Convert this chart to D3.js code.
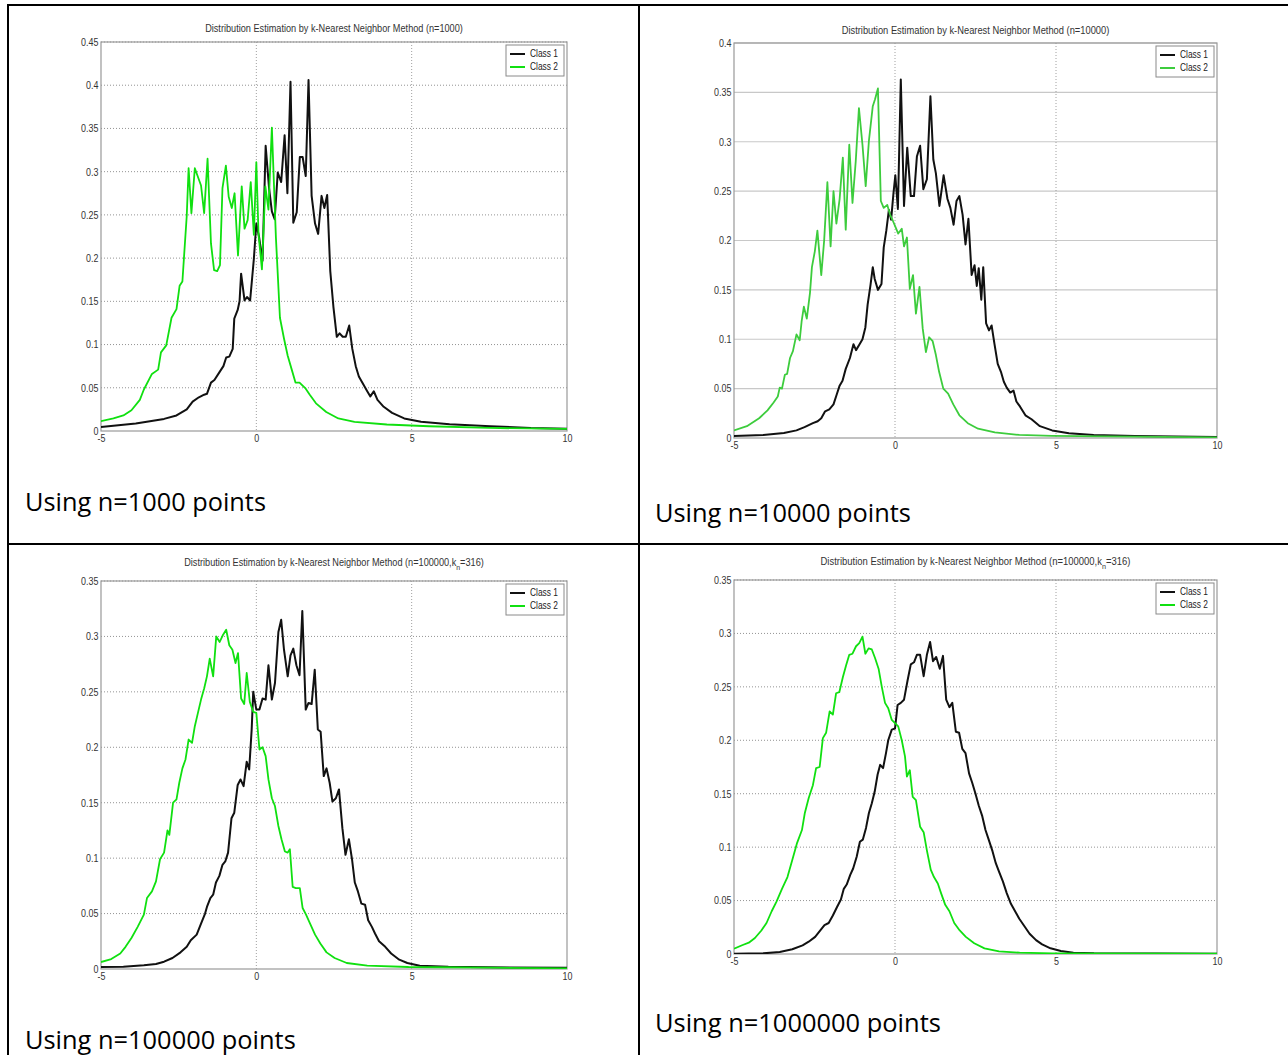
<!DOCTYPE html>
<html><head><meta charset="utf-8">
<script src="https://cdn.jsdelivr.net/npm/d3@7"></script>
<style>
body{margin:0;background:#fff;}
svg{display:block;}
</style></head><body>
<svg id="c" width="1288" height="1055"></svg>
<script>
// ---------------- DATA ----------------
const xTicks = [-5, 0, 5, 10];
const yTicks_n1000 = [0, 0.05, 0.1, 0.15, 0.2, 0.25, 0.3, 0.35, 0.4, 0.45];
const yTicks_n10000 = [0, 0.05, 0.1, 0.15, 0.2, 0.25, 0.3, 0.35, 0.4];
const yTicks_n100000 = [0, 0.05, 0.1, 0.15, 0.2, 0.25, 0.3, 0.35];
const yTicks_n1000000 = [0, 0.05, 0.1, 0.15, 0.2, 0.25, 0.3, 0.35];
const seriesNames = ["Class 1", "Class 2"];
const titles = [
  "Distribution Estimation by k-Nearest Neighbor Method (n=1000)",
  "Distribution Estimation by k-Nearest Neighbor Method (n=10000)",
  "Distribution Estimation by k-Nearest Neighbor Method (n=100000,k_n=316)",
  "Distribution Estimation by k-Nearest Neighbor Method (n=100000,k_n=316)"
];
const captions = ["Using n=1000 points", "Using n=10000 points", "Using n=100000 points", "Using n=1000000 points"];

const n1000_class1 = [[-5,0.0047],[-3.88,0.0086],[-2.97,0.014],[-2.57,0.018],[-2.24,0.025],[-2.05,0.034],[-1.85,0.039],[-1.68,0.042],[-1.59,0.043],[-1.46,0.056],[-1.35,0.059],[-1.17,0.069],[-1.06,0.075],[-0.97,0.085],[-0.87,0.086],[-0.76,0.095],[-0.71,0.130],[-0.60,0.140],[-0.54,0.150],[-0.49,0.182],[-0.38,0.151],[-0.30,0.155],[-0.20,0.151],[-0.08,0.199],[0,0.240],[0.09,0.224],[0.2,0.197],[0.30,0.330],[0.41,0.281],[0.50,0.254],[0.59,0.245],[0.69,0.299],[0.80,0.288],[0.91,0.342],[1.00,0.275],[1.10,0.404],[1.19,0.241],[1.30,0.253],[1.40,0.317],[1.49,0.317],[1.59,0.295],[1.68,0.406],[1.78,0.272],[1.89,0.240],[1.99,0.228],[2.10,0.272],[2.19,0.258],[2.28,0.273],[2.38,0.185],[2.48,0.144],[2.59,0.109],[2.68,0.113],[2.78,0.109],[2.88,0.109],[2.99,0.122],[3.09,0.095],[3.2,0.075],[3.30,0.063],[3.41,0.056],[3.57,0.046],[3.67,0.040],[3.78,0.046],[3.9,0.036],[4.1,0.028],[4.37,0.021],[4.76,0.0145],[5.3,0.0106],[6.22,0.0078],[7.53,0.0055],[8.84,0.0035],[10,0.0027]];
const n1000_class2 = [[-5,0.0114],[-4.6,0.0145],[-4.28,0.018],[-4.02,0.024],[-3.75,0.036],[-3.62,0.048],[-3.36,0.066],[-3.16,0.071],[-3.07,0.091],[-2.9,0.099],[-2.73,0.131],[-2.57,0.141],[-2.47,0.168],[-2.38,0.173],[-2.24,0.249],[-2.18,0.304],[-2.09,0.252],[-1.98,0.304],[-1.78,0.284],[-1.68,0.252],[-1.57,0.315],[-1.46,0.217],[-1.36,0.186],[-1.26,0.185],[-1.17,0.192],[-1.09,0.281],[-0.98,0.307],[-0.89,0.271],[-0.79,0.258],[-0.70,0.275],[-0.59,0.203],[-0.47,0.283],[-0.38,0.234],[-0.28,0.244],[-0.18,0.288],[-0.08,0.227],[0,0.311],[0.07,0.228],[0.18,0.187],[0.29,0.283],[0.39,0.256],[0.50,0.351],[0.63,0.224],[0.76,0.131],[0.89,0.107],[1.01,0.087],[1.14,0.071],[1.26,0.056],[1.39,0.056],[1.59,0.049],[1.72,0.042],[1.92,0.032],[2.25,0.022],[2.64,0.0145],[3.16,0.0106],[4.2,0.0075],[5.56,0.0055],[7.5,0.0035],[10,0.0024]];

const n10000_class1 = [[-5,0.0021],[-4.09,0.003],[-3.45,0.005],[-3.06,0.0077],[-2.81,0.011],[-2.55,0.015],[-2.40,0.017],[-2.29,0.020],[-2.17,0.027],[-2.04,0.029],[-1.91,0.034],[-1.81,0.044],[-1.72,0.053],[-1.63,0.058],[-1.53,0.070],[-1.40,0.081],[-1.29,0.095],[-1.21,0.089],[-1.1,0.095],[-1.01,0.100],[-0.92,0.112],[-0.85,0.135],[-0.76,0.155],[-0.69,0.173],[-0.63,0.161],[-0.53,0.150],[-0.42,0.156],[-0.35,0.193],[-0.27,0.210],[-0.19,0.231],[-0.12,0.221],[-0.05,0.247],[0.01,0.266],[0.09,0.232],[0.18,0.363],[0.28,0.235],[0.38,0.294],[0.49,0.245],[0.59,0.245],[0.68,0.285],[0.78,0.296],[0.88,0.252],[0.99,0.262],[1.1,0.346],[1.19,0.282],[1.27,0.268],[1.38,0.235],[1.51,0.266],[1.63,0.242],[1.72,0.233],[1.82,0.216],[1.91,0.240],[2.0,0.245],[2.10,0.226],[2.19,0.196],[2.28,0.222],[2.38,0.165],[2.47,0.175],[2.54,0.154],[2.60,0.172],[2.68,0.140],[2.74,0.173],[2.83,0.116],[2.92,0.109],[3.0,0.114],[3.09,0.095],[3.19,0.075],[3.29,0.067],[3.38,0.057],[3.47,0.051],[3.58,0.046],[3.68,0.048],[3.77,0.037],[3.88,0.032],[4.05,0.023],[4.24,0.019],[4.5,0.012],[4.88,0.0077],[5.4,0.0049],[6.17,0.0031],[7.45,0.0021],[10,0.001]];
const n10000_class2 = [[-5,0.0077],[-4.6,0.012],[-4.22,0.020],[-3.96,0.028],[-3.77,0.036],[-3.64,0.042],[-3.58,0.051],[-3.51,0.050],[-3.42,0.064],[-3.35,0.065],[-3.26,0.081],[-3.17,0.088],[-3.06,0.105],[-2.96,0.099],[-2.9,0.118],[-2.83,0.133],[-2.74,0.121],[-2.64,0.147],[-2.58,0.173],[-2.49,0.189],[-2.41,0.210],[-2.29,0.165],[-2.2,0.200],[-2.1,0.259],[-2.0,0.194],[-1.91,0.250],[-1.82,0.217],[-1.72,0.242],[-1.62,0.284],[-1.53,0.211],[-1.42,0.297],[-1.32,0.238],[-1.22,0.280],[-1.12,0.334],[-1.01,0.297],[-0.91,0.255],[-0.81,0.301],[-0.69,0.336],[-0.62,0.343],[-0.53,0.354],[-0.44,0.240],[-0.35,0.233],[-0.24,0.236],[-0.15,0.226],[-0.08,0.221],[0.01,0.214],[0.10,0.207],[0.21,0.212],[0.28,0.194],[0.37,0.203],[0.46,0.151],[0.56,0.165],[0.65,0.126],[0.76,0.153],[0.86,0.111],[0.96,0.087],[1.06,0.102],[1.17,0.098],[1.27,0.084],[1.37,0.067],[1.50,0.050],[1.65,0.045],[1.81,0.034],[2.0,0.023],[2.26,0.015],[2.58,0.0094],[3.1,0.0056],[3.86,0.0031],[4.88,0.0021],[7.45,0.0014],[10,0.0007]];

const n100000_class1 = [[-5,0.0018],[-4.28,0.002],[-3.62,0.0033],[-3.23,0.0045],[-2.97,0.0066],[-2.70,0.0099],[-2.44,0.015],[-2.24,0.020],[-2.11,0.026],[-1.92,0.031],[-1.78,0.041],[-1.65,0.050],[-1.59,0.056],[-1.48,0.064],[-1.39,0.067],[-1.30,0.078],[-1.19,0.084],[-1.09,0.094],[-1.0,0.097],[-0.91,0.105],[-0.80,0.136],[-0.71,0.141],[-0.60,0.166],[-0.51,0.171],[-0.41,0.165],[-0.31,0.187],[-0.23,0.180],[-0.15,0.216],[-0.10,0.250],[0,0.234],[0.10,0.234],[0.20,0.244],[0.30,0.243],[0.39,0.274],[0.50,0.243],[0.60,0.258],[0.71,0.304],[0.80,0.315],[0.89,0.288],[1.01,0.264],[1.10,0.283],[1.19,0.289],[1.29,0.274],[1.39,0.265],[1.48,0.323],[1.59,0.234],[1.68,0.240],[1.78,0.239],[1.88,0.270],[1.98,0.216],[2.07,0.214],[2.17,0.174],[2.26,0.181],[2.36,0.168],[2.45,0.151],[2.56,0.154],[2.66,0.162],[2.77,0.127],[2.87,0.103],[2.98,0.117],[3.08,0.099],[3.17,0.078],[3.27,0.070],[3.38,0.059],[3.50,0.058],[3.60,0.044],[3.72,0.038],[3.82,0.032],[3.95,0.025],[4.15,0.020],[4.34,0.014],[4.60,0.0084],[4.86,0.0054],[5.26,0.003],[6.18,0.002],[7.5,0.0015],[10,0.0012]];
const n100000_class2 = [[-5,0.0063],[-4.67,0.009],[-4.38,0.014],[-4.21,0.020],[-4.02,0.028],[-3.82,0.038],[-3.62,0.049],[-3.52,0.064],[-3.36,0.070],[-3.23,0.079],[-3.10,0.099],[-2.97,0.105],[-2.86,0.125],[-2.80,0.121],[-2.68,0.150],[-2.57,0.153],[-2.48,0.168],[-2.38,0.181],[-2.28,0.189],[-2.18,0.207],[-2.07,0.204],[-1.98,0.219],[-1.88,0.231],[-1.78,0.243],[-1.68,0.253],[-1.59,0.264],[-1.50,0.280],[-1.39,0.264],[-1.29,0.300],[-1.18,0.295],[-1.08,0.301],[-0.97,0.306],[-0.87,0.292],[-0.77,0.288],[-0.67,0.276],[-0.59,0.285],[-0.49,0.244],[-0.39,0.239],[-0.31,0.267],[-0.21,0.241],[-0.10,0.232],[0,0.231],[0.10,0.198],[0.20,0.200],[0.30,0.192],[0.39,0.171],[0.50,0.154],[0.60,0.147],[0.71,0.129],[0.81,0.117],[0.92,0.106],[1.01,0.105],[1.08,0.108],[1.17,0.074],[1.27,0.073],[1.40,0.073],[1.49,0.055],[1.60,0.049],[1.73,0.041],[1.89,0.031],[2.06,0.023],[2.26,0.015],[2.52,0.0099],[2.91,0.0054],[3.57,0.003],[4.9,0.0018],[7.53,0.0012],[10,0.0006]];

const n1000000_class1 = [[-5,0.0003],[-4.09,0.0006],[-3.58,0.0019],[-3.19,0.0044],[-2.87,0.0081],[-2.68,0.0115],[-2.48,0.016],[-2.32,0.022],[-2.19,0.027],[-2.06,0.029],[-1.93,0.036],[-1.80,0.044],[-1.68,0.051],[-1.59,0.061],[-1.50,0.065],[-1.39,0.074],[-1.30,0.080],[-1.19,0.091],[-1.09,0.105],[-1.0,0.107],[-0.90,0.118],[-0.81,0.132],[-0.72,0.141],[-0.63,0.152],[-0.54,0.168],[-0.46,0.177],[-0.37,0.174],[-0.28,0.188],[-0.21,0.200],[-0.10,0.210],[0,0.211],[0.08,0.233],[0.18,0.235],[0.28,0.238],[0.39,0.256],[0.49,0.271],[0.59,0.273],[0.68,0.280],[0.78,0.280],[0.89,0.260],[0.99,0.280],[1.09,0.292],[1.18,0.274],[1.28,0.278],[1.39,0.267],[1.49,0.279],[1.59,0.238],[1.69,0.231],[1.78,0.235],[1.89,0.208],[1.99,0.207],[2.09,0.192],[2.19,0.188],[2.30,0.169],[2.40,0.160],[2.50,0.150],[2.60,0.139],[2.71,0.129],[2.81,0.116],[2.91,0.107],[3.03,0.096],[3.13,0.085],[3.23,0.077],[3.35,0.068],[3.47,0.057],[3.60,0.047],[3.73,0.040],[3.86,0.033],[4.02,0.026],[4.18,0.019],[4.38,0.013],[4.57,0.009],[4.83,0.0053],[5.15,0.0028],[5.54,0.0012],[6.18,0.0006],[10,0.0003]];
const n1000000_class2 = [[-5,0.005],[-4.73,0.0084],[-4.54,0.0106],[-4.35,0.015],[-4.15,0.022],[-3.99,0.029],[-3.83,0.040],[-3.68,0.049],[-3.51,0.061],[-3.34,0.072],[-3.19,0.088],[-3.04,0.104],[-2.89,0.116],[-2.80,0.132],[-2.68,0.146],[-2.55,0.158],[-2.45,0.174],[-2.34,0.175],[-2.24,0.202],[-2.14,0.207],[-2.03,0.227],[-1.93,0.224],[-1.83,0.244],[-1.73,0.245],[-1.62,0.259],[-1.52,0.270],[-1.42,0.280],[-1.32,0.281],[-1.21,0.288],[-1.11,0.291],[-1.01,0.297],[-0.92,0.281],[-0.82,0.286],[-0.72,0.285],[-0.62,0.277],[-0.51,0.267],[-0.41,0.250],[-0.31,0.235],[-0.21,0.230],[-0.10,0.219],[0,0.216],[0.10,0.213],[0.21,0.200],[0.31,0.185],[0.37,0.166],[0.46,0.172],[0.55,0.147],[0.65,0.144],[0.78,0.119],[0.89,0.114],[0.99,0.097],[1.11,0.079],[1.21,0.072],[1.33,0.066],[1.43,0.057],[1.56,0.046],[1.69,0.040],[1.84,0.029],[2.01,0.022],[2.20,0.016],[2.46,0.010],[2.78,0.0053],[3.23,0.0025],[3.87,0.0012],[4.9,0.0006],[10,0.0003]];

// ---------------- LAYOUT ----------------
const panels = [
  {left:101, right:567, top:42, bottom:431, yMax:0.45, yTicks:yTicks_n1000, s1:n1000_class1, s2:n1000_class2, title:titles[0], titleY:32, titleW:258, cap:captions[0], capX:25, capY:511, capW:241, green:"#10e010", grid:"dot"},
  {left:734, right:1217, top:43, bottom:438, yMax:0.4, yTicks:yTicks_n10000, s1:n10000_class1, s2:n10000_class2, title:titles[1], titleY:34, titleW:268, cap:captions[1], capX:655, capY:522, capW:256, green:"#3dcc3d", grid:"solid"},
  {left:101, right:567, top:581, bottom:969, yMax:0.35, yTicks:yTicks_n100000, s1:n100000_class1, s2:n100000_class2, title:titles[2], titleY:566, titleW:300, cap:captions[2], capX:25, capY:1049, capW:271, green:"#10e010", grid:"dot"},
  {left:734, right:1217, top:580, bottom:954, yMax:0.35, yTicks:yTicks_n1000000, s1:n1000000_class1, s2:n1000000_class2, title:titles[3], titleY:565, titleW:310, cap:captions[3], capX:655, capY:1032, capW:286, green:"#10e010", grid:"dot"}
];

const svg = d3.select("#c");
svg.append("rect").attr("width",1288).attr("height",1055).attr("fill","#fff");
const smallFont = "'Liberation Sans Narrow','Arial Narrow','Liberation Sans',Arial,sans-serif";

function fitWidth(sel, target, anchorX){
  const w = sel.node().getComputedTextLength();
  const s = target / w;
  sel.attr("transform", `translate(${anchorX},0) scale(${s},1) translate(${-anchorX},0)`);
}

panels.forEach((p,i)=>{
  const g = svg.append("g");
  const x = d3.scaleLinear().domain([-5,10]).range([p.left,p.right]);
  const y = d3.scaleLinear().domain([0,p.yMax]).range([p.bottom,p.top]);
  const clipId = "clip"+i;
  g.append("clipPath").attr("id",clipId).append("rect")
    .attr("x",p.left).attr("y",p.top-2).attr("width",p.right-p.left).attr("height",p.bottom-p.top+2);

  // grid
  const dash = p.grid==="dot" ? "1,2" : null;
  g.append("g").selectAll("line").data(p.yTicks.slice(1)).join("line")
    .attr("x1",p.left).attr("x2",p.right).attr("y1",d=>y(d)).attr("y2",d=>y(d))
    .attr("stroke", p.grid==="dot" ? "#777" : "#c8c8c8")
    .attr("stroke-width", p.grid==="dot" ? 0.8 : 1.2)
    .attr("stroke-dasharray",dash);
  g.append("g").selectAll("line").data(xTicks.slice(1,-1)).join("line")
    .attr("x1",d=>x(d)).attr("x2",d=>x(d)).attr("y1",p.top).attr("y2",p.bottom)
    .attr("stroke","#888").attr("stroke-width",0.8).attr("stroke-dasharray","1,2");

  // box
  g.append("rect").attr("x",p.left).attr("y",p.top).attr("width",p.right-p.left).attr("height",p.bottom-p.top)
    .attr("fill","none").attr("stroke","#999").attr("stroke-width",1.2);

  // axes
  const ya = g.append("g").attr("transform",`translate(${p.left},0)`)
    .call(d3.axisLeft(y).tickValues(p.yTicks).tickSize(0).tickPadding(3).tickFormat(d3.format("~g")));
  const xa = g.append("g").attr("transform",`translate(0,${p.bottom})`)
    .call(d3.axisBottom(x).tickValues(xTicks).tickSize(0).tickPadding(4).tickFormat(d=>String(d)));
  [ya,xa].forEach(a=>{
    a.select(".domain").remove();
    a.selectAll("text").attr("font-family",smallFont).attr("font-size",10.5).attr("fill","#333");
  });
  ya.selectAll("text").attr("transform","scale(0.85,1)");
  xa.selectAll("text").attr("transform","scale(0.85,1)");

  // lines
  const line = d3.line().x(d=>x(d[0])).y(d=>y(d[1]));
  const lg = g.append("g").attr("clip-path",`url(#${clipId})`);
  lg.append("path").datum(p.s1).attr("d",line).attr("fill","none").attr("stroke","#111").attr("stroke-width",2).attr("stroke-linejoin","round");
  lg.append("path").datum(p.s2).attr("d",line).attr("fill","none").attr("stroke",p.green).attr("stroke-width",1.8).attr("stroke-linejoin","round");

  // legend
  const lx = p.right-61, ly = p.top+3;
  const leg = g.append("g");
  leg.append("rect").attr("x",lx).attr("y",ly).attr("width",58).attr("height",31)
    .attr("fill","#fff").attr("stroke","#8a8a8a").attr("stroke-width",1);
  [p.s1,p.s2].forEach((s,k)=>{
    const yy = ly + 9 + k*13;
    leg.append("line").attr("x1",lx+4).attr("x2",lx+19).attr("y1",yy).attr("y2",yy)
      .attr("stroke", k===0 ? "#111" : p.green).attr("stroke-width",2);
    const t = leg.append("text").attr("x",lx+24).attr("y",yy+3.5).text(seriesNames[k])
      .attr("font-family",smallFont).attr("font-size",10.5).attr("fill","#222");
    fitWidth(t, 28, lx+24);
  });

  // title
  const cx = (p.left+p.right)/2;
  const tt = g.append("text").attr("x",cx).attr("y",p.titleY).attr("text-anchor","middle")
    .attr("font-family",smallFont).attr("font-size",10.5).attr("fill","#333");
  const parts = p.title.split("k_n");
  parts.forEach((part,k)=>{
    if(k>0){
      tt.append("tspan").text("k");
      tt.append("tspan").text("n").attr("font-size",8).attr("dy",4);
      tt.append("tspan").text(part).attr("dy",-4);
    } else {
      tt.append("tspan").text(part);
    }
  });
  fitWidth(tt, p.titleW, cx);

  // caption
  const ct = svg.append("text").attr("x",p.capX).attr("y",p.capY).text(p.cap)
    .attr("font-family","'Open Sans','Noto Sans',sans-serif").attr("font-size",25).attr("fill","#000");
  fitWidth(ct, p.capW, p.capX);
});

// table borders
const borderV = [8, 639];
const borderH = [5, 544];
svg.append("g").selectAll("line").data(borderV).join("line")
  .attr("x1",d=>d).attr("x2",d=>d).attr("y1",4).attr("y2",1055).attr("stroke","#000").attr("stroke-width",2);
svg.append("g").selectAll("line").data(borderH).join("line")
  .attr("x1",7).attr("x2",1288).attr("y1",d=>d).attr("y2",d=>d).attr("stroke","#000").attr("stroke-width",2);
</script>
</body></html>
